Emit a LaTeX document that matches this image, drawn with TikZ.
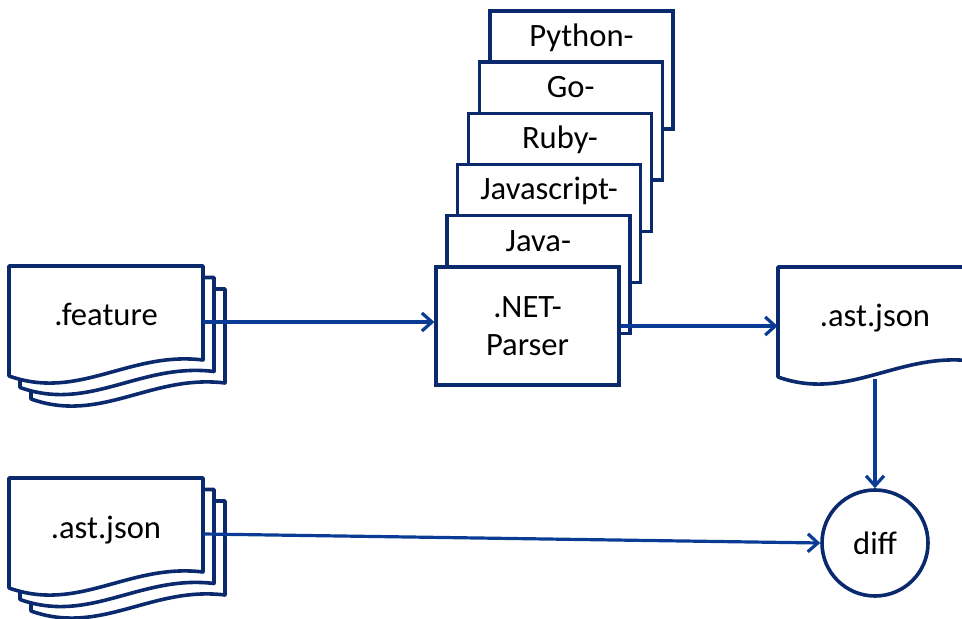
\documentclass[tikz,border=0pt]{standalone}
\usepackage{fontspec}
\setmainfont{Carlito}
\usetikzlibrary{arrows.meta}
\definecolor{boxblue}{HTML}{0B2A6E}
\definecolor{arrowblue}{HTML}{0A3C96}
\newcommand{\docpage}[2]{%
  \draw[docline,shift={(#1,#2)}] (0,0) -- (194,0) -- (194,94)
    .. controls (120,85) and (70,135) .. (0,110) -- cycle;}

\begin{document}
\begin{tikzpicture}[x=0.5pt, y=-0.5pt, font=\fontsize{16.3}{19}\selectfont]
 \tikzset{docline/.style={draw=boxblue, fill=white, line width=1.8pt, line join=round},
   doc/.style={minimum width=97pt, minimum height=56pt, inner sep=0pt, text height=11pt, text depth=7pt},
   parser/.style={draw=boxblue, fill=white, line width=1.7pt, minimum width=91.5pt, minimum height=59pt, inner sep=0pt},
   flow/.style={draw=arrowblue, line width=1.6pt}}
  \clip (0,0) rectangle (962,619);
  % feature files
  \docpage{31}{289} \docpage{20}{277.5} \docpage{9}{266}
  \node[doc] (feature) at (106,322) {.feature};
  % parsers
  \foreach \name/\lang [count=\i from 0] in {python/Python-, go/Go-, ruby/Ruby-, js/Javascript-, java/Java-}
    \node[parser, label={[anchor=base,yshift=-18.5pt]north:\lang}] (\name) at ({581.5-10.8*\i},{70+51.2*\i}) {};
  \node[parser, align=center] (net) at (527.5,326) {.NET-\\Parser};
  % output and expected
  \docpage{778}{267}
  \node[doc] (astout) at (875,323) {.ast.json};
  \docpage{31}{501} \docpage{20}{489.5} \docpage{9}{478}
  \node[doc] (astin) at (106,534) {.ast.json};
  \node[draw=boxblue, circle, line width=1.8pt, minimum size=53pt, inner sep=0pt] (diff) at (875,543) {diff};
  \draw[->,>={Straight Barb[length=5pt,width=9pt]}, flow] (feature.east) -- (feature.east -| net.west);
  \draw[->,>={Straight Barb[length=5pt,width=9pt]}, flow] (net.east) -- (net.east -| astout.west);
  \draw[->,>={Straight Barb[length=5pt,width=9pt]}, flow] (astout.south) -- (diff.north);
  \draw[->,>={Straight Barb[length=5pt,width=9pt]}, flow] (astin.east) -- (diff.west);
\end{tikzpicture}
\end{document}
